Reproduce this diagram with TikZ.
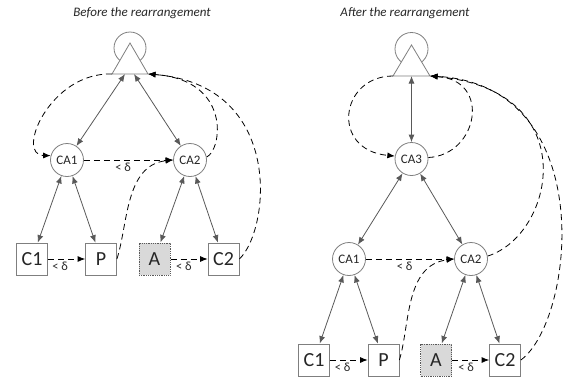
\documentclass[tikz,border=0pt]{standalone}
\usepackage{fontspec}
\setmainfont{Carlito}
\usetikzlibrary{arrows.meta}

\definecolor{ink}{HTML}{262626}
\definecolor{edge}{HTML}{7F7F7F}
\definecolor{wire}{HTML}{595959}
\definecolor{shade}{HTML}{D9D9D9}

\begin{document}
\begin{tikzpicture}[
    x=1pt, y=-1pt,
    >={Latex[length=7.5pt,width=6pt]},
    heading/.style={text=ink, font=\itshape\fontsize{13}{15}\selectfont},
    ca/.style={circle, draw=edge, fill=white, line width=0.8pt, minimum size=33pt,
      inner sep=0pt, text=ink, font=\fontsize{13}{15}\selectfont},
    leaf/.style={rectangle, draw=edge, fill=white, line width=0.8pt, minimum width=31pt,
      minimum height=32pt, inner sep=0pt, text=ink, font=\fontsize{20}{24}\selectfont},
    moved/.style={leaf, fill=shade, draw=wire, densely dotted, line width=1pt},
    link/.style={<->, draw=wire, line width=0.8pt},
    hop/.style={->, line width=0.8pt, dash pattern=on 6pt off 4pt},
    lessd/.style={below, inner sep=3pt, text=ink, font=\fontsize{12.5}{14}\selectfont},
    root/.style={draw=edge, line width=0.8pt}
  ]
  \useasboundingbox (0,0) rectangle (567,378);

  % Before the rearrangement
  \node[heading] (lhead) at (142,13) {Before the rearrangement};

  % Root
  \draw[root] (130,48) circle[radius=16pt];
  \draw[root, fill=white] (112,74) -- (130,43) -- (148,74) -- cycle;
  \coordinate (ltl) at (112,74);
  \coordinate (ltr) at (148,74);
  \coordinate (lt1) at (125,74);
  \coordinate (lt2) at (134,74);

  % Cluster heads
  \node[ca] (lca1) at (67,160) {CA1};
  \node[ca] (lca2) at (190,160) {CA2};

  % Leaves
  \node[leaf]  (lc1) at (32,259)    {C1};
  \node[leaf]  (lp)  at (101,259)   {P};
  \node[moved] (la)  at (154.5,259) {A};
  \node[leaf]  (lc2) at (223.5,259) {C2};

  % Links
  \draw[link] (lt1) -- (lca1);
  \draw[link] (lt2) -- (lca2);
  \draw[link] (lca1) -- (lc1);
  \draw[link] (lca1) -- (lp);
  \draw[link] (lca2) -- (la);
  \draw[link] (lca2) -- (lc2);

  % Hops
  \draw[hop] (lca1) -- node[lessd, pos=0.44] {< δ} (lca2);
  \draw[hop] (lc1) -- node[lessd, pos=0.33] {< δ} (lp);
  \draw[hop] (la) -- node[lessd, pos=0.36] {< δ} (lc2);
  \draw[hop] (ltl) .. controls (50,72) and (15,155) .. (lca1.165);
  \draw[hop] (lca2.10) .. controls (222,150) and (232,80) .. (ltr);
  \draw[hop] (lc2.east) .. controls (270,230) and (285,85) .. (ltr);
  \draw[hop] (lp.east) .. controls (128,225) and (125,165) .. (lca2.west);

  % After the rearrangement
  \node[heading] (rhead) at (405,13) {After the rearrangement};

  % Root
  \draw[root] (411.5,49) circle[radius=16.5pt];
  \draw[root, fill=white] (393,76) -- (411.5,45) -- (430,76) -- cycle;
  \coordinate (rtl) at (393,76);
  \coordinate (rtr) at (430,76);
  \coordinate (rt)  at (411.5,76);

  % Cluster heads
  \node[ca] (rca3) at (411.5,159) {CA3};
  \node[ca] (rca1) at (349,259)   {CA1};
  \node[ca] (rca2) at (471,259)   {CA2};

  % Leaves
  \node[leaf]  (rc1) at (314,360)   {C1};
  \node[leaf]  (rp)  at (383.5,360) {P};
  \node[moved] (ra)  at (436,360)   {A};
  \node[leaf]  (rc2) at (505,360)   {C2};

  % Links
  \draw[link] (rt) -- (rca3);
  \draw[link] (rca3) -- (rca1);
  \draw[link] (rca3) -- (rca2);
  \draw[link] (rca1) -- (rc1);
  \draw[link] (rca1) -- (rp);
  \draw[link] (rca2) -- (ra);
  \draw[link] (rca2) -- (rc2);

  % Hops
  \draw[hop] (rca1) -- node[lessd, pos=0.44] {< δ} (rca2);
  \draw[hop] (rc1) -- node[lessd, pos=0.34] {< δ} (rp);
  \draw[hop] (ra) -- node[lessd, pos=0.38] {< δ} (rc2);
  \draw[hop] (rtl) .. controls (340,76) and (330,150) .. (rca3.170);
  \draw[hop] (rca3.5) .. controls (478,155) and (492,80) .. (rtr);
  \draw[hop] (rp.east) .. controls (410,325) and (405,265) .. (rca2.west);
  \draw[hop] (rca2.10) .. controls (555,235) and (585,90) .. (rtr);
  \draw[hop] (rc2.east) .. controls (575,320) and (600,85) .. (rtr);
\end{tikzpicture}
\end{document}
